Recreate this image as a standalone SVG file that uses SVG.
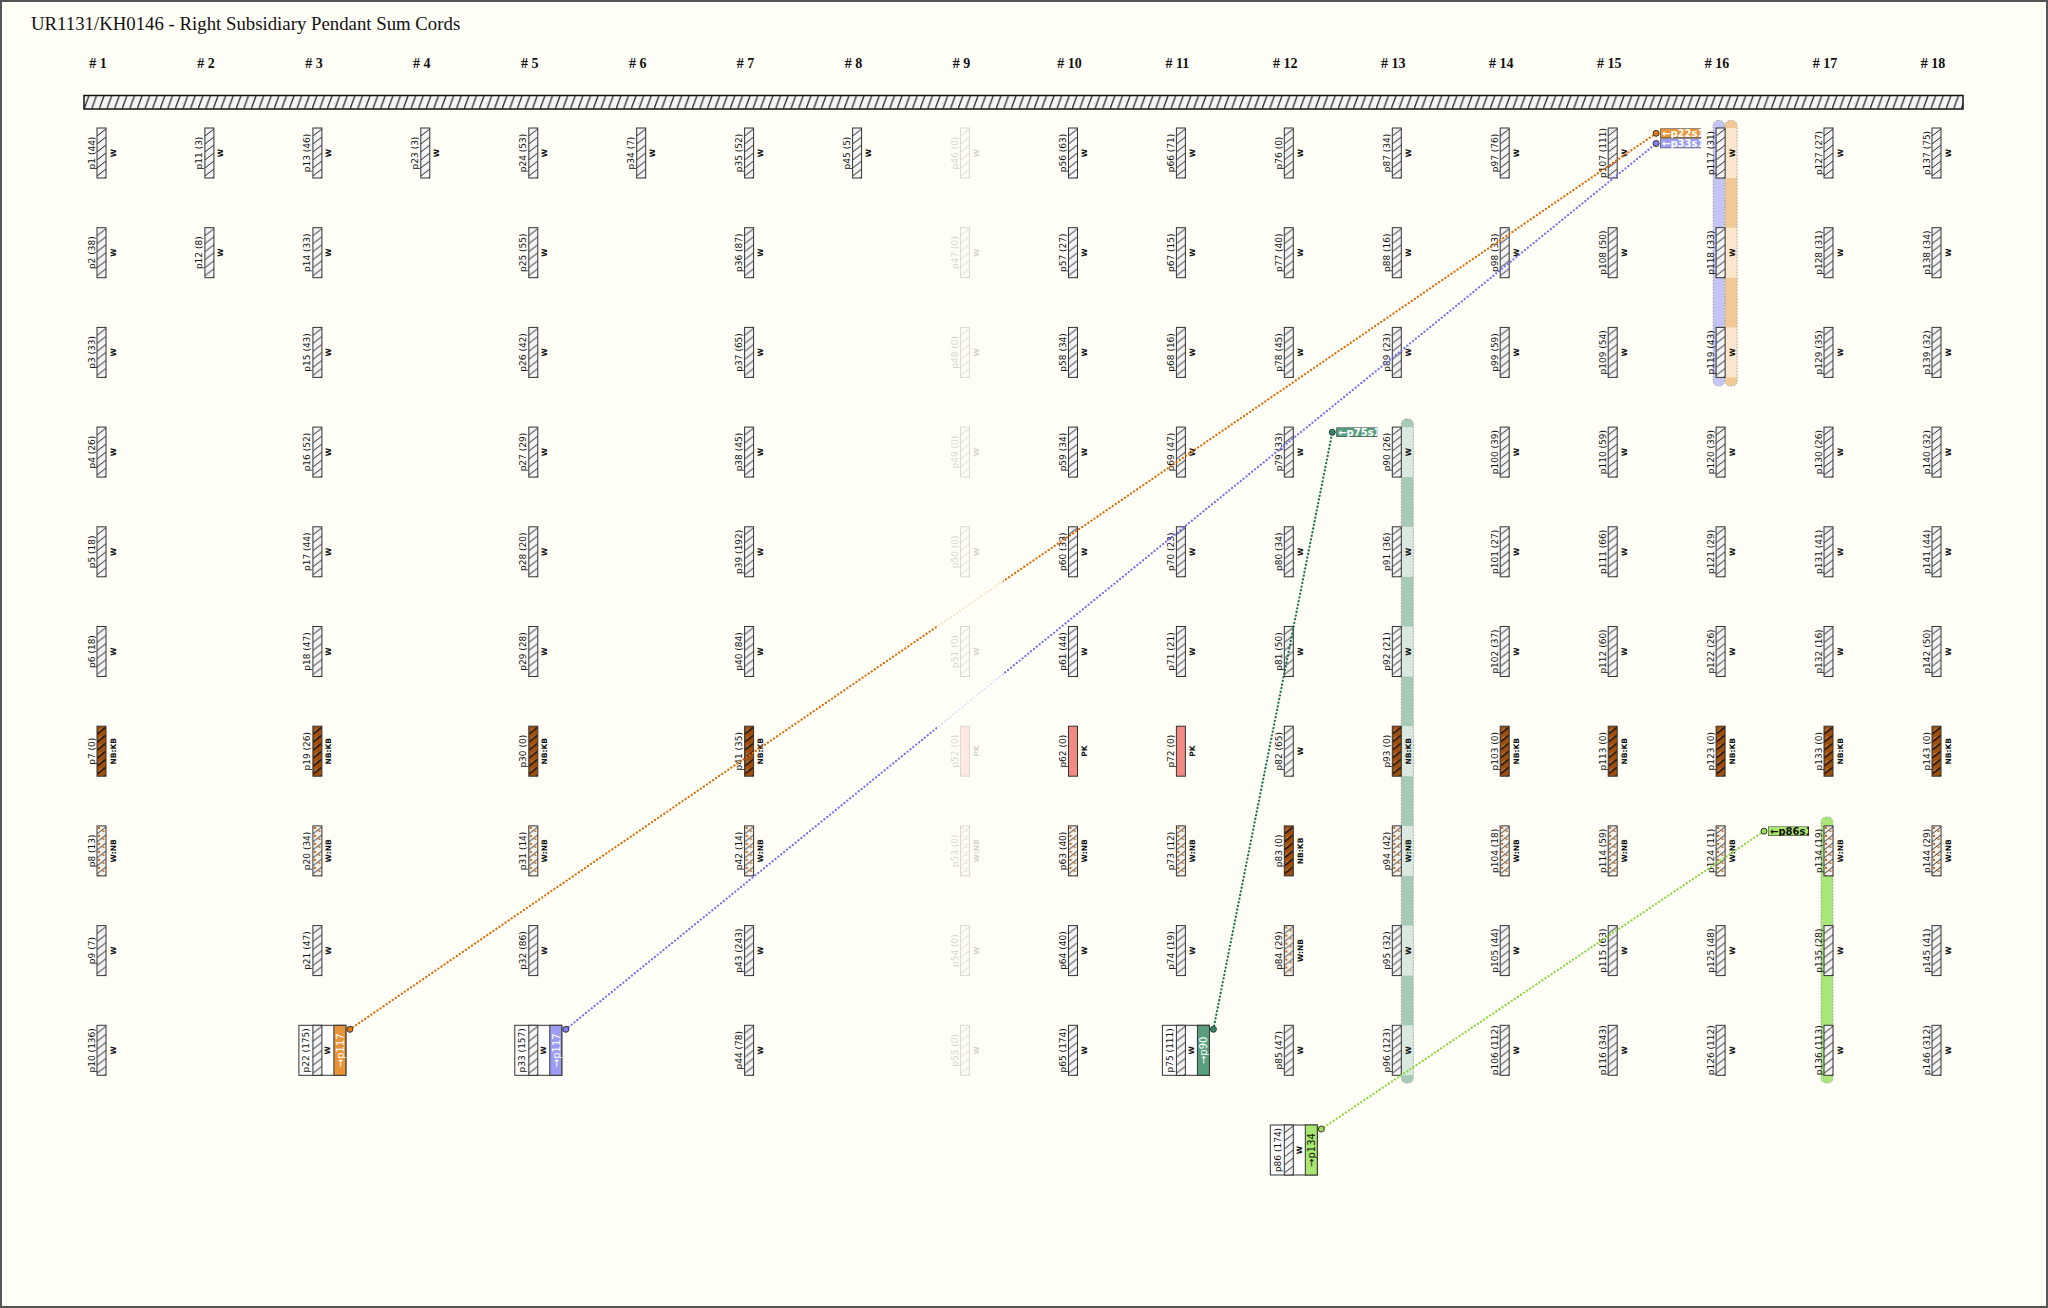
<svg xmlns="http://www.w3.org/2000/svg" width="2048" height="1308" viewBox="0 0 2048 1308">
<defs>
<style>
.c{stroke:#333;stroke-width:1}
.w{fill:url(#hw);stroke:#333;stroke-width:1}
.nk{fill:url(#hnk);stroke:#333;stroke-width:1}
.wn{fill:url(#hwn);stroke:#333;stroke-width:1}
.pk{fill:#f08a82;stroke:#333;stroke-width:1}
.l{font-family:"DejaVu Sans",sans-serif;font-size:9px;text-anchor:middle;fill:#111}
.k{font-family:"DejaVu Sans",sans-serif;font-size:7.5px;font-weight:bold;text-anchor:middle;fill:#111}
.s{font-family:"DejaVu Sans",sans-serif;font-size:10px;text-anchor:middle}
.e{font-family:"DejaVu Sans",sans-serif;font-size:10px;font-weight:bold}
.h{font-family:"Liberation Serif",serif;font-size:14px;font-weight:bold;text-anchor:middle;fill:#111}
.sb{fill:#fff;stroke:#333;stroke-width:1}
.cn{fill:none;stroke-width:2.2;stroke-linecap:round;stroke-dasharray:0.1 3.6}
.dot{stroke:#333;stroke-width:1}
.band{fill:none;stroke:#999;stroke-width:0.8;stroke-dasharray:1.5 1.5}
</style>
<pattern id="hw" width="1" height="0.16" patternContentUnits="userSpaceOnUse"><rect width="9" height="8" fill="#f3f3f3"/><path d="M0,8 L9,1" stroke="#222" stroke-width="1"/></pattern>
<pattern id="hnk" width="1" height="0.16" patternContentUnits="userSpaceOnUse"><rect width="9" height="8" fill="#a04f0e"/><path d="M0,8 L9,1" stroke="#1a1008" stroke-width="1.4"/><path d="M1.5,4.8 L4.5,2.5" stroke="#fff" stroke-width="0.6" opacity="0.6"/></pattern>
<pattern id="hwn" width="1" height="0.16" patternContentUnits="userSpaceOnUse"><rect width="9" height="8" fill="#f6f2ea"/><rect x="1" y="1" width="2" height="2" fill="#c0621a"/><rect x="5.5" y="4.5" width="2" height="1.5" fill="#c0621a"/><path d="M0,8 L9,1" stroke="#333" stroke-width="1"/></pattern>
<pattern id="hbar" patternUnits="userSpaceOnUse" x="84" y="95.5" width="7.6" height="13.5"><rect width="7.6" height="13.5" fill="#f4f4f4"/><path d="M0,13.5 L5,0" stroke="#222" stroke-width="1.2"/></pattern>
<clipPath id="k1"><rect x="1660.1" y="128.5" width="41" height="9.5"/></clipPath>
<clipPath id="k2"><rect x="1660.1" y="138.5" width="41" height="9.7"/></clipPath>
<clipPath id="k3"><rect x="1336.3" y="427.6" width="41" height="9.5"/></clipPath>
<clipPath id="k4"><rect x="1768" y="826.4" width="41" height="9.5"/></clipPath>
</defs>
<rect x="1" y="1" width="2046" height="1306" fill="#fffef7" stroke="#555" stroke-width="2"/>
<text x="31" y="30" font-family="Liberation Serif, serif" font-size="18.8" fill="#111">UR1131/KH0146 - Right Subsidiary Pendant Sum Cords</text>
<g id="headers">
<text class="h" x="98" y="68"># 1</text>
<text class="h" x="205.9" y="68"># 2</text>
<text class="h" x="313.9" y="68"># 3</text>
<text class="h" x="421.8" y="68"># 4</text>
<text class="h" x="529.8" y="68"># 5</text>
<text class="h" x="637.7" y="68"># 6</text>
<text class="h" x="745.6" y="68"># 7</text>
<text class="h" x="853.6" y="68"># 8</text>
<text class="h" x="961.5" y="68"># 9</text>
<text class="h" x="1069.5" y="68"># 10</text>
<text class="h" x="1177.4" y="68"># 11</text>
<text class="h" x="1285.3" y="68"># 12</text>
<text class="h" x="1393.3" y="68"># 13</text>
<text class="h" x="1501.2" y="68"># 14</text>
<text class="h" x="1609.2" y="68"># 15</text>
<text class="h" x="1717.1" y="68"># 16</text>
<text class="h" x="1825" y="68"># 17</text>
<text class="h" x="1933" y="68"># 18</text>
</g>
<g id="primary"><rect x="84" y="95.5" width="1879" height="13.5" fill="url(#hbar)" stroke="#111" stroke-width="1.5"/></g>
<g id="bands">
<rect x="1713.1" y="120.5" width="11.5" height="265.5" rx="5" fill="#c4c4f6"/>
<rect x="1713.1" y="120.5" width="11.5" height="265.5" rx="5" class="band"/>
<rect x="1725.1" y="120.5" width="12" height="265.5" rx="5" fill="#f2c896"/>
<rect x="1725.1" y="128" width="12" height="50" fill="#f9e6cc"/>
<rect x="1725.1" y="227.7" width="12" height="50" fill="#f9e6cc"/>
<rect x="1725.1" y="327.4" width="12" height="50" fill="#f9e6cc"/>
<rect x="1725.1" y="120.5" width="12" height="265.5" rx="5" class="band"/>
<rect x="1401.3" y="419" width="12" height="664" rx="5" fill="#a6cab6"/>
<rect x="1401.3" y="427.1" width="12" height="50" fill="#d9e9df"/>
<rect x="1401.3" y="526.8" width="12" height="50" fill="#d9e9df"/>
<rect x="1401.3" y="626.5" width="12" height="50" fill="#d9e9df"/>
<rect x="1401.3" y="726.2" width="12" height="50" fill="#d9e9df"/>
<rect x="1401.3" y="825.9" width="12" height="50" fill="#d9e9df"/>
<rect x="1401.3" y="925.6" width="12" height="50" fill="#d9e9df"/>
<rect x="1401.3" y="1025.3" width="12" height="50" fill="#d9e9df"/>
<rect x="1401.3" y="419" width="12" height="664" rx="5" class="band"/>
<rect x="1821" y="817" width="12" height="266" rx="5" fill="#a8e67a"/>
<rect x="1821" y="817" width="12" height="266" rx="5" class="band"/>
</g>
<g id="nodes">
<g id="p1" transform="translate(97,128)"><rect class="w" width="9" height="50"/><text class="l" transform="rotate(-90)" x="-25" y="-2.5">p1 (44)</text><text class="k" transform="rotate(-90)" x="-25" y="18.5">W</text></g>
<g id="p2" transform="translate(97,227.7)"><rect class="w" width="9" height="50"/><text class="l" transform="rotate(-90)" x="-25" y="-2.5">p2 (38)</text><text class="k" transform="rotate(-90)" x="-25" y="18.5">W</text></g>
<g id="p3" transform="translate(97,327.4)"><rect class="w" width="9" height="50"/><text class="l" transform="rotate(-90)" x="-25" y="-2.5">p3 (33)</text><text class="k" transform="rotate(-90)" x="-25" y="18.5">W</text></g>
<g id="p4" transform="translate(97,427.1)"><rect class="w" width="9" height="50"/><text class="l" transform="rotate(-90)" x="-25" y="-2.5">p4 (26)</text><text class="k" transform="rotate(-90)" x="-25" y="18.5">W</text></g>
<g id="p5" transform="translate(97,526.8)"><rect class="w" width="9" height="50"/><text class="l" transform="rotate(-90)" x="-25" y="-2.5">p5 (18)</text><text class="k" transform="rotate(-90)" x="-25" y="18.5">W</text></g>
<g id="p6" transform="translate(97,626.5)"><rect class="w" width="9" height="50"/><text class="l" transform="rotate(-90)" x="-25" y="-2.5">p6 (18)</text><text class="k" transform="rotate(-90)" x="-25" y="18.5">W</text></g>
<g id="p7" transform="translate(97,726.2)"><rect class="nk" width="9" height="50"/><text class="l" transform="rotate(-90)" x="-25" y="-2.5">p7 (0)</text><text class="k" transform="rotate(-90)" x="-25" y="18.5">NB:KB</text></g>
<g id="p8" transform="translate(97,825.9)"><rect class="wn" width="9" height="50"/><text class="l" transform="rotate(-90)" x="-25" y="-2.5">p8 (13)</text><text class="k" transform="rotate(-90)" x="-25" y="18.5">W:NB</text></g>
<g id="p9" transform="translate(97,925.6)"><rect class="w" width="9" height="50"/><text class="l" transform="rotate(-90)" x="-25" y="-2.5">p9 (7)</text><text class="k" transform="rotate(-90)" x="-25" y="18.5">W</text></g>
<g id="p10" transform="translate(97,1025.3)"><rect class="w" width="9" height="50"/><text class="l" transform="rotate(-90)" x="-25" y="-2.5">p10 (136)</text><text class="k" transform="rotate(-90)" x="-25" y="18.5">W</text></g>
<g id="p11" transform="translate(204.9,128)"><rect class="w" width="9" height="50"/><text class="l" transform="rotate(-90)" x="-25" y="-2.5">p11 (3)</text><text class="k" transform="rotate(-90)" x="-25" y="18.5">W</text></g>
<g id="p12" transform="translate(204.9,227.7)"><rect class="w" width="9" height="50"/><text class="l" transform="rotate(-90)" x="-25" y="-2.5">p12 (8)</text><text class="k" transform="rotate(-90)" x="-25" y="18.5">W</text></g>
<g id="p13" transform="translate(312.9,128)"><rect class="w" width="9" height="50"/><text class="l" transform="rotate(-90)" x="-25" y="-2.5">p13 (46)</text><text class="k" transform="rotate(-90)" x="-25" y="18.5">W</text></g>
<g id="p14" transform="translate(312.9,227.7)"><rect class="w" width="9" height="50"/><text class="l" transform="rotate(-90)" x="-25" y="-2.5">p14 (33)</text><text class="k" transform="rotate(-90)" x="-25" y="18.5">W</text></g>
<g id="p15" transform="translate(312.9,327.4)"><rect class="w" width="9" height="50"/><text class="l" transform="rotate(-90)" x="-25" y="-2.5">p15 (43)</text><text class="k" transform="rotate(-90)" x="-25" y="18.5">W</text></g>
<g id="p16" transform="translate(312.9,427.1)"><rect class="w" width="9" height="50"/><text class="l" transform="rotate(-90)" x="-25" y="-2.5">p16 (52)</text><text class="k" transform="rotate(-90)" x="-25" y="18.5">W</text></g>
<g id="p17" transform="translate(312.9,526.8)"><rect class="w" width="9" height="50"/><text class="l" transform="rotate(-90)" x="-25" y="-2.5">p17 (44)</text><text class="k" transform="rotate(-90)" x="-25" y="18.5">W</text></g>
<g id="p18" transform="translate(312.9,626.5)"><rect class="w" width="9" height="50"/><text class="l" transform="rotate(-90)" x="-25" y="-2.5">p18 (47)</text><text class="k" transform="rotate(-90)" x="-25" y="18.5">W</text></g>
<g id="p19" transform="translate(312.9,726.2)"><rect class="nk" width="9" height="50"/><text class="l" transform="rotate(-90)" x="-25" y="-2.5">p19 (26)</text><text class="k" transform="rotate(-90)" x="-25" y="18.5">NB:KB</text></g>
<g id="p20" transform="translate(312.9,825.9)"><rect class="wn" width="9" height="50"/><text class="l" transform="rotate(-90)" x="-25" y="-2.5">p20 (34)</text><text class="k" transform="rotate(-90)" x="-25" y="18.5">W:NB</text></g>
<g id="p21" transform="translate(312.9,925.6)"><rect class="w" width="9" height="50"/><text class="l" transform="rotate(-90)" x="-25" y="-2.5">p21 (47)</text><text class="k" transform="rotate(-90)" x="-25" y="18.5">W</text></g>
<g id="p22" transform="translate(312.9,1025.3)"><rect class="sb" x="-14" width="47" height="50"/><rect class="w" width="9" height="50"/><rect class="c" x="21" width="12" height="50" fill="#e8953a"/><text class="l" transform="rotate(-90)" x="-25" y="-3.5">p22 (175)</text><text class="k" transform="rotate(-90)" x="-25" y="17.5">W</text><text class="s" transform="rotate(-90)" x="-25" y="31" fill="#fff">→p117</text></g>
<g id="p23" transform="translate(420.8,128)"><rect class="w" width="9" height="50"/><text class="l" transform="rotate(-90)" x="-25" y="-2.5">p23 (3)</text><text class="k" transform="rotate(-90)" x="-25" y="18.5">W</text></g>
<g id="p24" transform="translate(528.8,128)"><rect class="w" width="9" height="50"/><text class="l" transform="rotate(-90)" x="-25" y="-2.5">p24 (53)</text><text class="k" transform="rotate(-90)" x="-25" y="18.5">W</text></g>
<g id="p25" transform="translate(528.8,227.7)"><rect class="w" width="9" height="50"/><text class="l" transform="rotate(-90)" x="-25" y="-2.5">p25 (55)</text><text class="k" transform="rotate(-90)" x="-25" y="18.5">W</text></g>
<g id="p26" transform="translate(528.8,327.4)"><rect class="w" width="9" height="50"/><text class="l" transform="rotate(-90)" x="-25" y="-2.5">p26 (42)</text><text class="k" transform="rotate(-90)" x="-25" y="18.5">W</text></g>
<g id="p27" transform="translate(528.8,427.1)"><rect class="w" width="9" height="50"/><text class="l" transform="rotate(-90)" x="-25" y="-2.5">p27 (29)</text><text class="k" transform="rotate(-90)" x="-25" y="18.5">W</text></g>
<g id="p28" transform="translate(528.8,526.8)"><rect class="w" width="9" height="50"/><text class="l" transform="rotate(-90)" x="-25" y="-2.5">p28 (20)</text><text class="k" transform="rotate(-90)" x="-25" y="18.5">W</text></g>
<g id="p29" transform="translate(528.8,626.5)"><rect class="w" width="9" height="50"/><text class="l" transform="rotate(-90)" x="-25" y="-2.5">p29 (28)</text><text class="k" transform="rotate(-90)" x="-25" y="18.5">W</text></g>
<g id="p30" transform="translate(528.8,726.2)"><rect class="nk" width="9" height="50"/><text class="l" transform="rotate(-90)" x="-25" y="-2.5">p30 (0)</text><text class="k" transform="rotate(-90)" x="-25" y="18.5">NB:KB</text></g>
<g id="p31" transform="translate(528.8,825.9)"><rect class="wn" width="9" height="50"/><text class="l" transform="rotate(-90)" x="-25" y="-2.5">p31 (14)</text><text class="k" transform="rotate(-90)" x="-25" y="18.5">W:NB</text></g>
<g id="p32" transform="translate(528.8,925.6)"><rect class="w" width="9" height="50"/><text class="l" transform="rotate(-90)" x="-25" y="-2.5">p32 (86)</text><text class="k" transform="rotate(-90)" x="-25" y="18.5">W</text></g>
<g id="p33" transform="translate(528.8,1025.3)"><rect class="sb" x="-14" width="47" height="50"/><rect class="w" width="9" height="50"/><rect class="c" x="21" width="12" height="50" fill="#9c9cf2"/><text class="l" transform="rotate(-90)" x="-25" y="-3.5">p33 (157)</text><text class="k" transform="rotate(-90)" x="-25" y="17.5">W</text><text class="s" transform="rotate(-90)" x="-25" y="31" fill="#fff">→p117</text></g>
<g id="p34" transform="translate(636.7,128)"><rect class="w" width="9" height="50"/><text class="l" transform="rotate(-90)" x="-25" y="-2.5">p34 (7)</text><text class="k" transform="rotate(-90)" x="-25" y="18.5">W</text></g>
<g id="p35" transform="translate(744.6,128)"><rect class="w" width="9" height="50"/><text class="l" transform="rotate(-90)" x="-25" y="-2.5">p35 (52)</text><text class="k" transform="rotate(-90)" x="-25" y="18.5">W</text></g>
<g id="p36" transform="translate(744.6,227.7)"><rect class="w" width="9" height="50"/><text class="l" transform="rotate(-90)" x="-25" y="-2.5">p36 (87)</text><text class="k" transform="rotate(-90)" x="-25" y="18.5">W</text></g>
<g id="p37" transform="translate(744.6,327.4)"><rect class="w" width="9" height="50"/><text class="l" transform="rotate(-90)" x="-25" y="-2.5">p37 (65)</text><text class="k" transform="rotate(-90)" x="-25" y="18.5">W</text></g>
<g id="p38" transform="translate(744.6,427.1)"><rect class="w" width="9" height="50"/><text class="l" transform="rotate(-90)" x="-25" y="-2.5">p38 (45)</text><text class="k" transform="rotate(-90)" x="-25" y="18.5">W</text></g>
<g id="p39" transform="translate(744.6,526.8)"><rect class="w" width="9" height="50"/><text class="l" transform="rotate(-90)" x="-25" y="-2.5">p39 (192)</text><text class="k" transform="rotate(-90)" x="-25" y="18.5">W</text></g>
<g id="p40" transform="translate(744.6,626.5)"><rect class="w" width="9" height="50"/><text class="l" transform="rotate(-90)" x="-25" y="-2.5">p40 (84)</text><text class="k" transform="rotate(-90)" x="-25" y="18.5">W</text></g>
<g id="p41" transform="translate(744.6,726.2)"><rect class="nk" width="9" height="50"/><text class="l" transform="rotate(-90)" x="-25" y="-2.5">p41 (35)</text><text class="k" transform="rotate(-90)" x="-25" y="18.5">NB:KB</text></g>
<g id="p42" transform="translate(744.6,825.9)"><rect class="wn" width="9" height="50"/><text class="l" transform="rotate(-90)" x="-25" y="-2.5">p42 (14)</text><text class="k" transform="rotate(-90)" x="-25" y="18.5">W:NB</text></g>
<g id="p43" transform="translate(744.6,925.6)"><rect class="w" width="9" height="50"/><text class="l" transform="rotate(-90)" x="-25" y="-2.5">p43 (243)</text><text class="k" transform="rotate(-90)" x="-25" y="18.5">W</text></g>
<g id="p44" transform="translate(744.6,1025.3)"><rect class="w" width="9" height="50"/><text class="l" transform="rotate(-90)" x="-25" y="-2.5">p44 (78)</text><text class="k" transform="rotate(-90)" x="-25" y="18.5">W</text></g>
<g id="p45" transform="translate(852.6,128)"><rect class="w" width="9" height="50"/><text class="l" transform="rotate(-90)" x="-25" y="-2.5">p45 (5)</text><text class="k" transform="rotate(-90)" x="-25" y="18.5">W</text></g>
<g id="p46" transform="translate(960.5,128)"><rect class="w" width="9" height="50"/><text class="l" transform="rotate(-90)" x="-25" y="-2.5">p46 (0)</text><text class="k" transform="rotate(-90)" x="-25" y="18.5">W</text></g>
<g id="p47" transform="translate(960.5,227.7)"><rect class="w" width="9" height="50"/><text class="l" transform="rotate(-90)" x="-25" y="-2.5">p47 (0)</text><text class="k" transform="rotate(-90)" x="-25" y="18.5">W</text></g>
<g id="p48" transform="translate(960.5,327.4)"><rect class="w" width="9" height="50"/><text class="l" transform="rotate(-90)" x="-25" y="-2.5">p48 (0)</text><text class="k" transform="rotate(-90)" x="-25" y="18.5">W</text></g>
<g id="p49" transform="translate(960.5,427.1)"><rect class="w" width="9" height="50"/><text class="l" transform="rotate(-90)" x="-25" y="-2.5">p49 (0)</text><text class="k" transform="rotate(-90)" x="-25" y="18.5">W</text></g>
<g id="p50" transform="translate(960.5,526.8)"><rect class="w" width="9" height="50"/><text class="l" transform="rotate(-90)" x="-25" y="-2.5">p50 (0)</text><text class="k" transform="rotate(-90)" x="-25" y="18.5">W</text></g>
<g id="p51" transform="translate(960.5,626.5)"><rect class="w" width="9" height="50"/><text class="l" transform="rotate(-90)" x="-25" y="-2.5">p51 (0)</text><text class="k" transform="rotate(-90)" x="-25" y="18.5">W</text></g>
<g id="p52" transform="translate(960.5,726.2)"><rect class="pk" width="9" height="50"/><text class="l" transform="rotate(-90)" x="-25" y="-2.5">p52 (0)</text><text class="k" transform="rotate(-90)" x="-25" y="18.5">PK</text></g>
<g id="p53" transform="translate(960.5,825.9)"><rect class="wn" width="9" height="50"/><text class="l" transform="rotate(-90)" x="-25" y="-2.5">p53 (0)</text><text class="k" transform="rotate(-90)" x="-25" y="18.5">W:NB</text></g>
<g id="p54" transform="translate(960.5,925.6)"><rect class="w" width="9" height="50"/><text class="l" transform="rotate(-90)" x="-25" y="-2.5">p54 (0)</text><text class="k" transform="rotate(-90)" x="-25" y="18.5">W</text></g>
<g id="p55" transform="translate(960.5,1025.3)"><rect class="w" width="9" height="50"/><text class="l" transform="rotate(-90)" x="-25" y="-2.5">p55 (0)</text><text class="k" transform="rotate(-90)" x="-25" y="18.5">W</text></g>
<g id="p56" transform="translate(1068.5,128)"><rect class="w" width="9" height="50"/><text class="l" transform="rotate(-90)" x="-25" y="-2.5">p56 (63)</text><text class="k" transform="rotate(-90)" x="-25" y="18.5">W</text></g>
<g id="p57" transform="translate(1068.5,227.7)"><rect class="w" width="9" height="50"/><text class="l" transform="rotate(-90)" x="-25" y="-2.5">p57 (27)</text><text class="k" transform="rotate(-90)" x="-25" y="18.5">W</text></g>
<g id="p58" transform="translate(1068.5,327.4)"><rect class="w" width="9" height="50"/><text class="l" transform="rotate(-90)" x="-25" y="-2.5">p58 (34)</text><text class="k" transform="rotate(-90)" x="-25" y="18.5">W</text></g>
<g id="p59" transform="translate(1068.5,427.1)"><rect class="w" width="9" height="50"/><text class="l" transform="rotate(-90)" x="-25" y="-2.5">p59 (34)</text><text class="k" transform="rotate(-90)" x="-25" y="18.5">W</text></g>
<g id="p60" transform="translate(1068.5,526.8)"><rect class="w" width="9" height="50"/><text class="l" transform="rotate(-90)" x="-25" y="-2.5">p60 (33)</text><text class="k" transform="rotate(-90)" x="-25" y="18.5">W</text></g>
<g id="p61" transform="translate(1068.5,626.5)"><rect class="w" width="9" height="50"/><text class="l" transform="rotate(-90)" x="-25" y="-2.5">p61 (44)</text><text class="k" transform="rotate(-90)" x="-25" y="18.5">W</text></g>
<g id="p62" transform="translate(1068.5,726.2)"><rect class="pk" width="9" height="50"/><text class="l" transform="rotate(-90)" x="-25" y="-2.5">p62 (0)</text><text class="k" transform="rotate(-90)" x="-25" y="18.5">PK</text></g>
<g id="p63" transform="translate(1068.5,825.9)"><rect class="wn" width="9" height="50"/><text class="l" transform="rotate(-90)" x="-25" y="-2.5">p63 (40)</text><text class="k" transform="rotate(-90)" x="-25" y="18.5">W:NB</text></g>
<g id="p64" transform="translate(1068.5,925.6)"><rect class="w" width="9" height="50"/><text class="l" transform="rotate(-90)" x="-25" y="-2.5">p64 (40)</text><text class="k" transform="rotate(-90)" x="-25" y="18.5">W</text></g>
<g id="p65" transform="translate(1068.5,1025.3)"><rect class="w" width="9" height="50"/><text class="l" transform="rotate(-90)" x="-25" y="-2.5">p65 (174)</text><text class="k" transform="rotate(-90)" x="-25" y="18.5">W</text></g>
<g id="p66" transform="translate(1176.4,128)"><rect class="w" width="9" height="50"/><text class="l" transform="rotate(-90)" x="-25" y="-2.5">p66 (71)</text><text class="k" transform="rotate(-90)" x="-25" y="18.5">W</text></g>
<g id="p67" transform="translate(1176.4,227.7)"><rect class="w" width="9" height="50"/><text class="l" transform="rotate(-90)" x="-25" y="-2.5">p67 (15)</text><text class="k" transform="rotate(-90)" x="-25" y="18.5">W</text></g>
<g id="p68" transform="translate(1176.4,327.4)"><rect class="w" width="9" height="50"/><text class="l" transform="rotate(-90)" x="-25" y="-2.5">p68 (16)</text><text class="k" transform="rotate(-90)" x="-25" y="18.5">W</text></g>
<g id="p69" transform="translate(1176.4,427.1)"><rect class="w" width="9" height="50"/><text class="l" transform="rotate(-90)" x="-25" y="-2.5">p69 (47)</text><text class="k" transform="rotate(-90)" x="-25" y="18.5">W</text></g>
<g id="p70" transform="translate(1176.4,526.8)"><rect class="w" width="9" height="50"/><text class="l" transform="rotate(-90)" x="-25" y="-2.5">p70 (23)</text><text class="k" transform="rotate(-90)" x="-25" y="18.5">W</text></g>
<g id="p71" transform="translate(1176.4,626.5)"><rect class="w" width="9" height="50"/><text class="l" transform="rotate(-90)" x="-25" y="-2.5">p71 (21)</text><text class="k" transform="rotate(-90)" x="-25" y="18.5">W</text></g>
<g id="p72" transform="translate(1176.4,726.2)"><rect class="pk" width="9" height="50"/><text class="l" transform="rotate(-90)" x="-25" y="-2.5">p72 (0)</text><text class="k" transform="rotate(-90)" x="-25" y="18.5">PK</text></g>
<g id="p73" transform="translate(1176.4,825.9)"><rect class="wn" width="9" height="50"/><text class="l" transform="rotate(-90)" x="-25" y="-2.5">p73 (12)</text><text class="k" transform="rotate(-90)" x="-25" y="18.5">W:NB</text></g>
<g id="p74" transform="translate(1176.4,925.6)"><rect class="w" width="9" height="50"/><text class="l" transform="rotate(-90)" x="-25" y="-2.5">p74 (19)</text><text class="k" transform="rotate(-90)" x="-25" y="18.5">W</text></g>
<g id="p75" transform="translate(1176.4,1025.3)"><rect class="sb" x="-14" width="47" height="50"/><rect class="w" width="9" height="50"/><rect class="c" x="21" width="12" height="50" fill="#5a9e80"/><text class="l" transform="rotate(-90)" x="-25" y="-3.5">p75 (111)</text><text class="k" transform="rotate(-90)" x="-25" y="17.5">W</text><text class="s" transform="rotate(-90)" x="-25" y="31" fill="#fff">→p90</text></g>
<g id="p76" transform="translate(1284.3,128)"><rect class="w" width="9" height="50"/><text class="l" transform="rotate(-90)" x="-25" y="-2.5">p76 (0)</text><text class="k" transform="rotate(-90)" x="-25" y="18.5">W</text></g>
<g id="p77" transform="translate(1284.3,227.7)"><rect class="w" width="9" height="50"/><text class="l" transform="rotate(-90)" x="-25" y="-2.5">p77 (40)</text><text class="k" transform="rotate(-90)" x="-25" y="18.5">W</text></g>
<g id="p78" transform="translate(1284.3,327.4)"><rect class="w" width="9" height="50"/><text class="l" transform="rotate(-90)" x="-25" y="-2.5">p78 (45)</text><text class="k" transform="rotate(-90)" x="-25" y="18.5">W</text></g>
<g id="p79" transform="translate(1284.3,427.1)"><rect class="w" width="9" height="50"/><text class="l" transform="rotate(-90)" x="-25" y="-2.5">p79 (33)</text><text class="k" transform="rotate(-90)" x="-25" y="18.5">W</text></g>
<g id="p80" transform="translate(1284.3,526.8)"><rect class="w" width="9" height="50"/><text class="l" transform="rotate(-90)" x="-25" y="-2.5">p80 (34)</text><text class="k" transform="rotate(-90)" x="-25" y="18.5">W</text></g>
<g id="p81" transform="translate(1284.3,626.5)"><rect class="w" width="9" height="50"/><text class="l" transform="rotate(-90)" x="-25" y="-2.5">p81 (50)</text><text class="k" transform="rotate(-90)" x="-25" y="18.5">W</text></g>
<g id="p82" transform="translate(1284.3,726.2)"><rect class="w" width="9" height="50"/><text class="l" transform="rotate(-90)" x="-25" y="-2.5">p82 (65)</text><text class="k" transform="rotate(-90)" x="-25" y="18.5">W</text></g>
<g id="p83" transform="translate(1284.3,825.9)"><rect class="nk" width="9" height="50"/><text class="l" transform="rotate(-90)" x="-25" y="-2.5">p83 (0)</text><text class="k" transform="rotate(-90)" x="-25" y="18.5">NB:KB</text></g>
<g id="p84" transform="translate(1284.3,925.6)"><rect class="wn" width="9" height="50"/><text class="l" transform="rotate(-90)" x="-25" y="-2.5">p84 (29)</text><text class="k" transform="rotate(-90)" x="-25" y="18.5">W:NB</text></g>
<g id="p85" transform="translate(1284.3,1025.3)"><rect class="w" width="9" height="50"/><text class="l" transform="rotate(-90)" x="-25" y="-2.5">p85 (47)</text><text class="k" transform="rotate(-90)" x="-25" y="18.5">W</text></g>
<g id="p86" transform="translate(1284.3,1125)"><rect class="sb" x="-14" width="47" height="50"/><rect class="w" width="9" height="50"/><rect class="c" x="21" width="12" height="50" fill="#a8e870"/><text class="l" transform="rotate(-90)" x="-25" y="-3.5">p86 (174)</text><text class="k" transform="rotate(-90)" x="-25" y="17.5">W</text><text class="s" transform="rotate(-90)" x="-25" y="31" fill="#111">→p134</text></g>
<g id="p87" transform="translate(1392.3,128)"><rect class="w" width="9" height="50"/><text class="l" transform="rotate(-90)" x="-25" y="-2.5">p87 (34)</text><text class="k" transform="rotate(-90)" x="-25" y="18.5">W</text></g>
<g id="p88" transform="translate(1392.3,227.7)"><rect class="w" width="9" height="50"/><text class="l" transform="rotate(-90)" x="-25" y="-2.5">p88 (16)</text><text class="k" transform="rotate(-90)" x="-25" y="18.5">W</text></g>
<g id="p89" transform="translate(1392.3,327.4)"><rect class="w" width="9" height="50"/><text class="l" transform="rotate(-90)" x="-25" y="-2.5">p89 (23)</text><text class="k" transform="rotate(-90)" x="-25" y="18.5">W</text></g>
<g id="p90" transform="translate(1392.3,427.1)"><rect class="w" width="9" height="50"/><text class="l" transform="rotate(-90)" x="-25" y="-2.5">p90 (26)</text><text class="k" transform="rotate(-90)" x="-25" y="18.5">W</text></g>
<g id="p91" transform="translate(1392.3,526.8)"><rect class="w" width="9" height="50"/><text class="l" transform="rotate(-90)" x="-25" y="-2.5">p91 (36)</text><text class="k" transform="rotate(-90)" x="-25" y="18.5">W</text></g>
<g id="p92" transform="translate(1392.3,626.5)"><rect class="w" width="9" height="50"/><text class="l" transform="rotate(-90)" x="-25" y="-2.5">p92 (21)</text><text class="k" transform="rotate(-90)" x="-25" y="18.5">W</text></g>
<g id="p93" transform="translate(1392.3,726.2)"><rect class="nk" width="9" height="50"/><text class="l" transform="rotate(-90)" x="-25" y="-2.5">p93 (0)</text><text class="k" transform="rotate(-90)" x="-25" y="18.5">NB:KB</text></g>
<g id="p94" transform="translate(1392.3,825.9)"><rect class="wn" width="9" height="50"/><text class="l" transform="rotate(-90)" x="-25" y="-2.5">p94 (42)</text><text class="k" transform="rotate(-90)" x="-25" y="18.5">W:NB</text></g>
<g id="p95" transform="translate(1392.3,925.6)"><rect class="w" width="9" height="50"/><text class="l" transform="rotate(-90)" x="-25" y="-2.5">p95 (32)</text><text class="k" transform="rotate(-90)" x="-25" y="18.5">W</text></g>
<g id="p96" transform="translate(1392.3,1025.3)"><rect class="w" width="9" height="50"/><text class="l" transform="rotate(-90)" x="-25" y="-2.5">p96 (123)</text><text class="k" transform="rotate(-90)" x="-25" y="18.5">W</text></g>
<g id="p97" transform="translate(1500.2,128)"><rect class="w" width="9" height="50"/><text class="l" transform="rotate(-90)" x="-25" y="-2.5">p97 (76)</text><text class="k" transform="rotate(-90)" x="-25" y="18.5">W</text></g>
<g id="p98" transform="translate(1500.2,227.7)"><rect class="w" width="9" height="50"/><text class="l" transform="rotate(-90)" x="-25" y="-2.5">p98 (33)</text><text class="k" transform="rotate(-90)" x="-25" y="18.5">W</text></g>
<g id="p99" transform="translate(1500.2,327.4)"><rect class="w" width="9" height="50"/><text class="l" transform="rotate(-90)" x="-25" y="-2.5">p99 (59)</text><text class="k" transform="rotate(-90)" x="-25" y="18.5">W</text></g>
<g id="p100" transform="translate(1500.2,427.1)"><rect class="w" width="9" height="50"/><text class="l" transform="rotate(-90)" x="-25" y="-2.5">p100 (39)</text><text class="k" transform="rotate(-90)" x="-25" y="18.5">W</text></g>
<g id="p101" transform="translate(1500.2,526.8)"><rect class="w" width="9" height="50"/><text class="l" transform="rotate(-90)" x="-25" y="-2.5">p101 (27)</text><text class="k" transform="rotate(-90)" x="-25" y="18.5">W</text></g>
<g id="p102" transform="translate(1500.2,626.5)"><rect class="w" width="9" height="50"/><text class="l" transform="rotate(-90)" x="-25" y="-2.5">p102 (37)</text><text class="k" transform="rotate(-90)" x="-25" y="18.5">W</text></g>
<g id="p103" transform="translate(1500.2,726.2)"><rect class="nk" width="9" height="50"/><text class="l" transform="rotate(-90)" x="-25" y="-2.5">p103 (0)</text><text class="k" transform="rotate(-90)" x="-25" y="18.5">NB:KB</text></g>
<g id="p104" transform="translate(1500.2,825.9)"><rect class="wn" width="9" height="50"/><text class="l" transform="rotate(-90)" x="-25" y="-2.5">p104 (18)</text><text class="k" transform="rotate(-90)" x="-25" y="18.5">W:NB</text></g>
<g id="p105" transform="translate(1500.2,925.6)"><rect class="w" width="9" height="50"/><text class="l" transform="rotate(-90)" x="-25" y="-2.5">p105 (44)</text><text class="k" transform="rotate(-90)" x="-25" y="18.5">W</text></g>
<g id="p106" transform="translate(1500.2,1025.3)"><rect class="w" width="9" height="50"/><text class="l" transform="rotate(-90)" x="-25" y="-2.5">p106 (112)</text><text class="k" transform="rotate(-90)" x="-25" y="18.5">W</text></g>
<g id="p107" transform="translate(1608.2,128)"><rect class="w" width="9" height="50"/><text class="l" transform="rotate(-90)" x="-25" y="-2.5">p107 (111)</text><text class="k" transform="rotate(-90)" x="-25" y="18.5">W</text></g>
<g id="p108" transform="translate(1608.2,227.7)"><rect class="w" width="9" height="50"/><text class="l" transform="rotate(-90)" x="-25" y="-2.5">p108 (50)</text><text class="k" transform="rotate(-90)" x="-25" y="18.5">W</text></g>
<g id="p109" transform="translate(1608.2,327.4)"><rect class="w" width="9" height="50"/><text class="l" transform="rotate(-90)" x="-25" y="-2.5">p109 (54)</text><text class="k" transform="rotate(-90)" x="-25" y="18.5">W</text></g>
<g id="p110" transform="translate(1608.2,427.1)"><rect class="w" width="9" height="50"/><text class="l" transform="rotate(-90)" x="-25" y="-2.5">p110 (59)</text><text class="k" transform="rotate(-90)" x="-25" y="18.5">W</text></g>
<g id="p111" transform="translate(1608.2,526.8)"><rect class="w" width="9" height="50"/><text class="l" transform="rotate(-90)" x="-25" y="-2.5">p111 (66)</text><text class="k" transform="rotate(-90)" x="-25" y="18.5">W</text></g>
<g id="p112" transform="translate(1608.2,626.5)"><rect class="w" width="9" height="50"/><text class="l" transform="rotate(-90)" x="-25" y="-2.5">p112 (60)</text><text class="k" transform="rotate(-90)" x="-25" y="18.5">W</text></g>
<g id="p113" transform="translate(1608.2,726.2)"><rect class="nk" width="9" height="50"/><text class="l" transform="rotate(-90)" x="-25" y="-2.5">p113 (0)</text><text class="k" transform="rotate(-90)" x="-25" y="18.5">NB:KB</text></g>
<g id="p114" transform="translate(1608.2,825.9)"><rect class="wn" width="9" height="50"/><text class="l" transform="rotate(-90)" x="-25" y="-2.5">p114 (59)</text><text class="k" transform="rotate(-90)" x="-25" y="18.5">W:NB</text></g>
<g id="p115" transform="translate(1608.2,925.6)"><rect class="w" width="9" height="50"/><text class="l" transform="rotate(-90)" x="-25" y="-2.5">p115 (63)</text><text class="k" transform="rotate(-90)" x="-25" y="18.5">W</text></g>
<g id="p116" transform="translate(1608.2,1025.3)"><rect class="w" width="9" height="50"/><text class="l" transform="rotate(-90)" x="-25" y="-2.5">p116 (343)</text><text class="k" transform="rotate(-90)" x="-25" y="18.5">W</text></g>
<g id="p117" transform="translate(1716.1,128)"><rect class="w" width="9" height="50"/><text class="l" transform="rotate(-90)" x="-25" y="-2.5">p117 (31)</text><text class="k" transform="rotate(-90)" x="-25" y="18.5">W</text></g>
<g id="p118" transform="translate(1716.1,227.7)"><rect class="w" width="9" height="50"/><text class="l" transform="rotate(-90)" x="-25" y="-2.5">p118 (33)</text><text class="k" transform="rotate(-90)" x="-25" y="18.5">W</text></g>
<g id="p119" transform="translate(1716.1,327.4)"><rect class="w" width="9" height="50"/><text class="l" transform="rotate(-90)" x="-25" y="-2.5">p119 (43)</text><text class="k" transform="rotate(-90)" x="-25" y="18.5">W</text></g>
<g id="p120" transform="translate(1716.1,427.1)"><rect class="w" width="9" height="50"/><text class="l" transform="rotate(-90)" x="-25" y="-2.5">p120 (39)</text><text class="k" transform="rotate(-90)" x="-25" y="18.5">W</text></g>
<g id="p121" transform="translate(1716.1,526.8)"><rect class="w" width="9" height="50"/><text class="l" transform="rotate(-90)" x="-25" y="-2.5">p121 (29)</text><text class="k" transform="rotate(-90)" x="-25" y="18.5">W</text></g>
<g id="p122" transform="translate(1716.1,626.5)"><rect class="w" width="9" height="50"/><text class="l" transform="rotate(-90)" x="-25" y="-2.5">p122 (26)</text><text class="k" transform="rotate(-90)" x="-25" y="18.5">W</text></g>
<g id="p123" transform="translate(1716.1,726.2)"><rect class="nk" width="9" height="50"/><text class="l" transform="rotate(-90)" x="-25" y="-2.5">p123 (0)</text><text class="k" transform="rotate(-90)" x="-25" y="18.5">NB:KB</text></g>
<g id="p124" transform="translate(1716.1,825.9)"><rect class="wn" width="9" height="50"/><text class="l" transform="rotate(-90)" x="-25" y="-2.5">p124 (11)</text><text class="k" transform="rotate(-90)" x="-25" y="18.5">W:NB</text></g>
<g id="p125" transform="translate(1716.1,925.6)"><rect class="w" width="9" height="50"/><text class="l" transform="rotate(-90)" x="-25" y="-2.5">p125 (48)</text><text class="k" transform="rotate(-90)" x="-25" y="18.5">W</text></g>
<g id="p126" transform="translate(1716.1,1025.3)"><rect class="w" width="9" height="50"/><text class="l" transform="rotate(-90)" x="-25" y="-2.5">p126 (112)</text><text class="k" transform="rotate(-90)" x="-25" y="18.5">W</text></g>
<g id="p127" transform="translate(1824,128)"><rect class="w" width="9" height="50"/><text class="l" transform="rotate(-90)" x="-25" y="-2.5">p127 (27)</text><text class="k" transform="rotate(-90)" x="-25" y="18.5">W</text></g>
<g id="p128" transform="translate(1824,227.7)"><rect class="w" width="9" height="50"/><text class="l" transform="rotate(-90)" x="-25" y="-2.5">p128 (31)</text><text class="k" transform="rotate(-90)" x="-25" y="18.5">W</text></g>
<g id="p129" transform="translate(1824,327.4)"><rect class="w" width="9" height="50"/><text class="l" transform="rotate(-90)" x="-25" y="-2.5">p129 (35)</text><text class="k" transform="rotate(-90)" x="-25" y="18.5">W</text></g>
<g id="p130" transform="translate(1824,427.1)"><rect class="w" width="9" height="50"/><text class="l" transform="rotate(-90)" x="-25" y="-2.5">p130 (26)</text><text class="k" transform="rotate(-90)" x="-25" y="18.5">W</text></g>
<g id="p131" transform="translate(1824,526.8)"><rect class="w" width="9" height="50"/><text class="l" transform="rotate(-90)" x="-25" y="-2.5">p131 (41)</text><text class="k" transform="rotate(-90)" x="-25" y="18.5">W</text></g>
<g id="p132" transform="translate(1824,626.5)"><rect class="w" width="9" height="50"/><text class="l" transform="rotate(-90)" x="-25" y="-2.5">p132 (16)</text><text class="k" transform="rotate(-90)" x="-25" y="18.5">W</text></g>
<g id="p133" transform="translate(1824,726.2)"><rect class="nk" width="9" height="50"/><text class="l" transform="rotate(-90)" x="-25" y="-2.5">p133 (0)</text><text class="k" transform="rotate(-90)" x="-25" y="18.5">NB:KB</text></g>
<g id="p134" transform="translate(1824,825.9)"><rect class="wn" width="9" height="50"/><text class="l" transform="rotate(-90)" x="-25" y="-2.5">p134 (19)</text><text class="k" transform="rotate(-90)" x="-25" y="18.5">W:NB</text></g>
<g id="p135" transform="translate(1824,925.6)"><rect class="w" width="9" height="50"/><text class="l" transform="rotate(-90)" x="-25" y="-2.5">p135 (28)</text><text class="k" transform="rotate(-90)" x="-25" y="18.5">W</text></g>
<g id="p136" transform="translate(1824,1025.3)"><rect class="w" width="9" height="50"/><text class="l" transform="rotate(-90)" x="-25" y="-2.5">p136 (113)</text><text class="k" transform="rotate(-90)" x="-25" y="18.5">W</text></g>
<g id="p137" transform="translate(1932,128)"><rect class="w" width="9" height="50"/><text class="l" transform="rotate(-90)" x="-25" y="-2.5">p137 (75)</text><text class="k" transform="rotate(-90)" x="-25" y="18.5">W</text></g>
<g id="p138" transform="translate(1932,227.7)"><rect class="w" width="9" height="50"/><text class="l" transform="rotate(-90)" x="-25" y="-2.5">p138 (34)</text><text class="k" transform="rotate(-90)" x="-25" y="18.5">W</text></g>
<g id="p139" transform="translate(1932,327.4)"><rect class="w" width="9" height="50"/><text class="l" transform="rotate(-90)" x="-25" y="-2.5">p139 (32)</text><text class="k" transform="rotate(-90)" x="-25" y="18.5">W</text></g>
<g id="p140" transform="translate(1932,427.1)"><rect class="w" width="9" height="50"/><text class="l" transform="rotate(-90)" x="-25" y="-2.5">p140 (32)</text><text class="k" transform="rotate(-90)" x="-25" y="18.5">W</text></g>
<g id="p141" transform="translate(1932,526.8)"><rect class="w" width="9" height="50"/><text class="l" transform="rotate(-90)" x="-25" y="-2.5">p141 (44)</text><text class="k" transform="rotate(-90)" x="-25" y="18.5">W</text></g>
<g id="p142" transform="translate(1932,626.5)"><rect class="w" width="9" height="50"/><text class="l" transform="rotate(-90)" x="-25" y="-2.5">p142 (50)</text><text class="k" transform="rotate(-90)" x="-25" y="18.5">W</text></g>
<g id="p143" transform="translate(1932,726.2)"><rect class="nk" width="9" height="50"/><text class="l" transform="rotate(-90)" x="-25" y="-2.5">p143 (0)</text><text class="k" transform="rotate(-90)" x="-25" y="18.5">NB:KB</text></g>
<g id="p144" transform="translate(1932,825.9)"><rect class="wn" width="9" height="50"/><text class="l" transform="rotate(-90)" x="-25" y="-2.5">p144 (29)</text><text class="k" transform="rotate(-90)" x="-25" y="18.5">W:NB</text></g>
<g id="p145" transform="translate(1932,925.6)"><rect class="w" width="9" height="50"/><text class="l" transform="rotate(-90)" x="-25" y="-2.5">p145 (41)</text><text class="k" transform="rotate(-90)" x="-25" y="18.5">W</text></g>
<g id="p146" transform="translate(1932,1025.3)"><rect class="w" width="9" height="50"/><text class="l" transform="rotate(-90)" x="-25" y="-2.5">p146 (312)</text><text class="k" transform="rotate(-90)" x="-25" y="18.5">W</text></g>
</g>
<g id="sumlabels">
<g id="p22s1" clip-path="url(#k1)"><rect x="1660.1" y="128.5" width="41" height="9.5" fill="#e8953a" stroke="#333"/><text class="e" x="1662" y="136.6" fill="#fff">←p22s1</text></g>
<g id="p33s1" clip-path="url(#k2)"><rect x="1660.1" y="138.5" width="41" height="9.7" fill="#9c9cf2" stroke="#333"/><text class="e" x="1662" y="146.8" fill="#fff">←p33s1</text></g>
<g id="p75s1" clip-path="url(#k3)"><rect x="1336.3" y="427.6" width="41" height="9.5" fill="#5a9e80" stroke="#333"/><text class="e" x="1338.2" y="435.7" fill="#fff">←p75s1</text></g>
<g id="p86s1" clip-path="url(#k4)"><rect x="1768" y="826.4" width="41" height="9.5" fill="#a8e870" stroke="#333"/><text class="e" x="1770" y="834.5" fill="#111">←p86s1</text></g>
</g>
<g id="connectors">
<path class="cn" d="M349.9,1029.3 L1656.1,133.3" stroke="#e06a00"/>
<path class="cn" d="M565.8,1029.3 L1656.1,143.5" stroke="#6f6ff2"/>
<path class="cn" d="M1213.4,1029.3 L1332.3,432.3" stroke="#17704e"/>
<path class="cn" d="M1321.3,1129 L1764,831.2" stroke="#8ad838"/>
<circle class="dot" cx="349.9" cy="1029.3" r="3" fill="#e07a10"/>
<circle class="dot" cx="1656.1" cy="133.3" r="3" fill="#e07a10"/>
<circle class="dot" cx="565.8" cy="1029.3" r="3" fill="#8080f0"/>
<circle class="dot" cx="1656.1" cy="143.5" r="3" fill="#8080f0"/>
<circle class="dot" cx="1213.4" cy="1029.3" r="3" fill="#2f8a66"/>
<circle class="dot" cx="1332.3" cy="432.3" r="3" fill="#2f8a66"/>
<circle class="dot" cx="1321.3" cy="1129" r="3" fill="#9ae050"/>
<circle class="dot" cx="1764" cy="831.2" r="3" fill="#9ae050"/>
</g>
<rect id="fade9" x="937" y="115" width="66" height="970" fill="#fffef7" opacity="0.82"/>
</svg>
